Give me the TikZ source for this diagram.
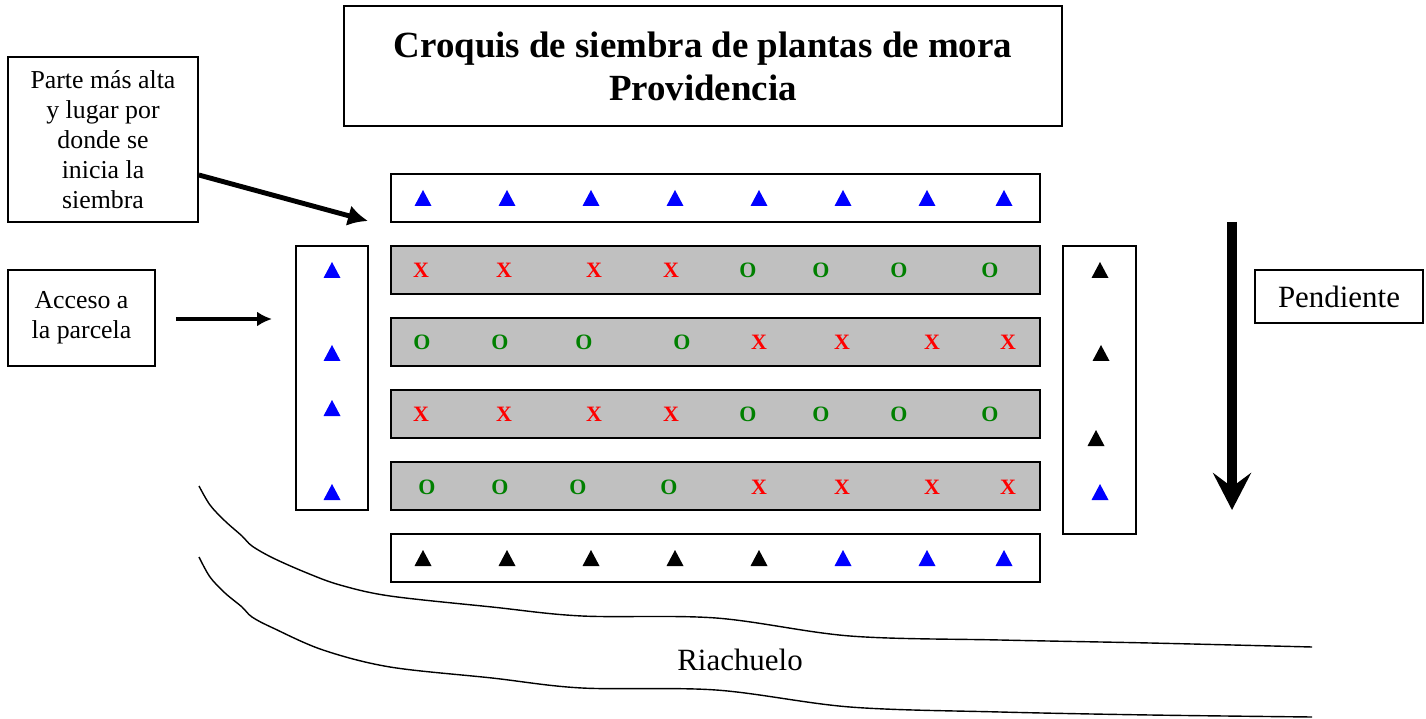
\documentclass[tikz,border=0pt]{standalone}
\usepackage{fontspec}
\setmainfont{Liberation Serif}
\usetikzlibrary{arrows.meta,calc}

\definecolor{gris}{RGB}{192,192,192}
\definecolor{verde}{RGB}{0,128,0}

\tikzset{
  caja/.style={draw, line width=1pt, align=center, inner sep=0pt},
  fila/.style={draw, line width=1pt, minimum width=12.98cm, minimum height=0.96cm, inner sep=0pt},
  texto/.style={font=\fontsize{14.7pt}{17pt}\selectfont},
  markX/.style={text=red, font=\fontsize{12.5pt}{12.5pt}\selectfont\bfseries},
  markO/.style={text=verde, font=\fontsize{12.5pt}{12.5pt}\selectfont\bfseries},
  tri/.pic={\fill (-8.5,8) -- (8.5,8) -- (0,-8) -- cycle;}
}

\begin{document}
\begin{tikzpicture}[x=0.02cm, y=-0.02cm]
    \useasboundingbox (0,0) rectangle (1426,719);

    % Title
    \node[caja, minimum width=14.36cm, minimum height=2.4cm,
          font=\fontsize{21pt}{24.4pt}\selectfont\bfseries] (titulo) at (703,66)
        {Croquis de siembra de plantas de mora\\Providencia};

    % Side boxes
    \node[caja, texto, minimum width=3.8cm, minimum height=3.3cm] (parte) at (103,139.5)
        {Parte más alta\\y lugar por\\donde se\\inicia la\\siembra};
    \node[caja, texto, minimum width=2.94cm, minimum height=1.92cm] (acceso) at (81.5,318)
        {Acceso a\\la parcela};
    \node[caja, minimum width=3.36cm, minimum height=1.06cm,
          font=\fontsize{17.6pt}{20pt}\selectfont] (pendiente) at (1339,296.5) {Pendiente};

    % Rows of the plot
    \node[fila] (arriba) at (715.5,198) {};
    \node[fila, fill=gris] (fila1) at (715.5,270) {};
    \node[fila, fill=gris] (fila2) at (715.5,342) {};
    \node[fila, fill=gris] (fila3) at (715.5,414) {};
    \node[fila, fill=gris] (fila4) at (715.5,486) {};
    \node[fila] (abajo) at (715.5,558) {};
    \node[caja, minimum width=1.44cm, minimum height=5.28cm] (izq) at (332,378) {};
    \node[caja, minimum width=1.46cm, minimum height=5.76cm] (der) at (1099.5,390) {};

    % Plants
    \foreach \x/\m in {421/X, 504/X, 594/X, 671/X, 748/O, 821/O, 899/O, 990/O} {
        \node[mark\m] at (\x,270) {\m};
        \node[mark\m] at (\x,414) {\m};
    }
    \foreach \x/\m in {422/O, 500/O, 584/O, 682/O, 759/X, 842/X, 932/X, 1008/X}
        \node[mark\m] at (\x,342) {\m};
    \foreach \x/\m in {427/O, 500/O, 578/O, 669/O, 759/X, 842/X, 932/X, 1008/X}
        \node[mark\m] at (\x,487) {\m};

    % Border plants
    \foreach \x in {423, 507, 591, 675, 759, 843, 927, 1004}
        \pic[blue] at (\x,198) {tri};
    \foreach \x/\c in {423/black, 507/black, 591/black, 675/black, 759/black, 843/blue, 927/blue, 1004/blue}
        \pic[\c] at (\x,558) {tri};
    \foreach \y in {270, 353, 408, 492}
        \pic[blue] at (332,\y) {tri};
    \foreach \x/\y/\c in {1100/270/black, 1101/353/black, 1096/438/black, 1100/492/blue}
        \pic[\c] at (\x,\y) {tri};

    % Arrows
    \coordinate (inicio) at (368,221);
    \draw[line width=2.8pt, -{Latex[length=0.4cm, width=0.42cm]}] (parte.east |- 0,175) -- (inicio);
    \coordinate (entrada) at (272,319);
    \draw[line width=2.3pt, -{Latex[length=0.3cm, width=0.3cm]}] ($(acceso.east |- 0,319)+(20,0)$) -- (entrada);
    \coordinate (pend1) at (1232,222);
    \coordinate (pend2) at (1232,510);
    \draw[line width=6.2pt, -{Stealth[length=0.74cm, width=0.76cm, inset=0.28cm]}] (pend1) -- (pend2);

    % River
    \draw[line width=0.8pt] plot[smooth, tension=0.55] coordinates {(199,486) (210,505) (225,521) (242,536) (252,546) (273,558) (307,573) (340,585) (390,596) (492,607) (582,616) (716,618) (850,636) (1000,640) (1150,643) (1312,647)};
    \draw[line width=0.8pt] plot[smooth, tension=0.55] coordinates {(199,557) (210,577) (225,593) (242,607) (252,617) (273,628) (323,650) (390,667) (492,678) (582,688) (716,690) (850,707) (1000,712) (1150,715) (1312,717)};
    \node[font=\fontsize{17.6pt}{20pt}\selectfont] (rio) at (740,660) {Riachuelo};

\end{tikzpicture}
\end{document}
